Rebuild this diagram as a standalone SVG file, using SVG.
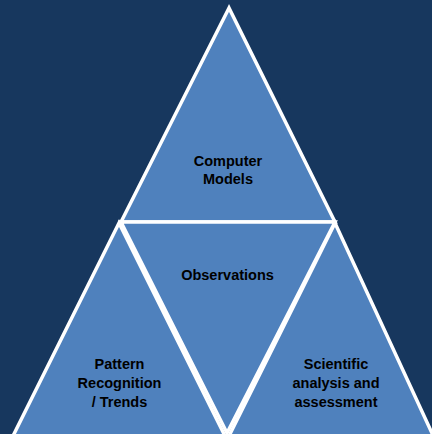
<svg xmlns="http://www.w3.org/2000/svg" width="432" height="434" viewBox="0 0 432 434">
<style>
.tri{fill:#4F81BD;stroke:#FFFFFF;stroke-width:3.5;stroke-linejoin:miter}
.lbl{font-family:"Liberation Sans",Arial,sans-serif;font-weight:bold;font-size:14.5px;fill:#000000;text-anchor:middle}
</style>
<rect x="0" y="0" width="432" height="434" fill="#17375E"/>
<g id="connectors"></g>
<g id="computer-models">
<polygon class="tri" points="229,8 121,222 335,222"/>
<text class="lbl" x="228" y="166">Computer</text>
<text class="lbl" x="228" y="184">Models</text>
</g>
<g id="pattern-recognition">
<polygon class="tri" points="119,223 9,444 229,444"/>
<text class="lbl" x="119.5" y="369">Pattern</text>
<text class="lbl" x="119.5" y="388">Recognition</text>
<text class="lbl" x="119.5" y="407">/ Trends</text>
</g>
<g id="scientific-analysis">
<polygon class="tri" points="335,223 225,444 437,444"/>
<text class="lbl" x="336" y="369">Scientific</text>
<text class="lbl" x="336" y="388">analysis and</text>
<text class="lbl" x="336" y="407">assessment</text>
</g>
<g id="observations">
<polygon class="tri" points="121,222 335,222 227,433"/>
<text class="lbl" x="227.5" y="280">Observations</text>
</g>
</svg>
